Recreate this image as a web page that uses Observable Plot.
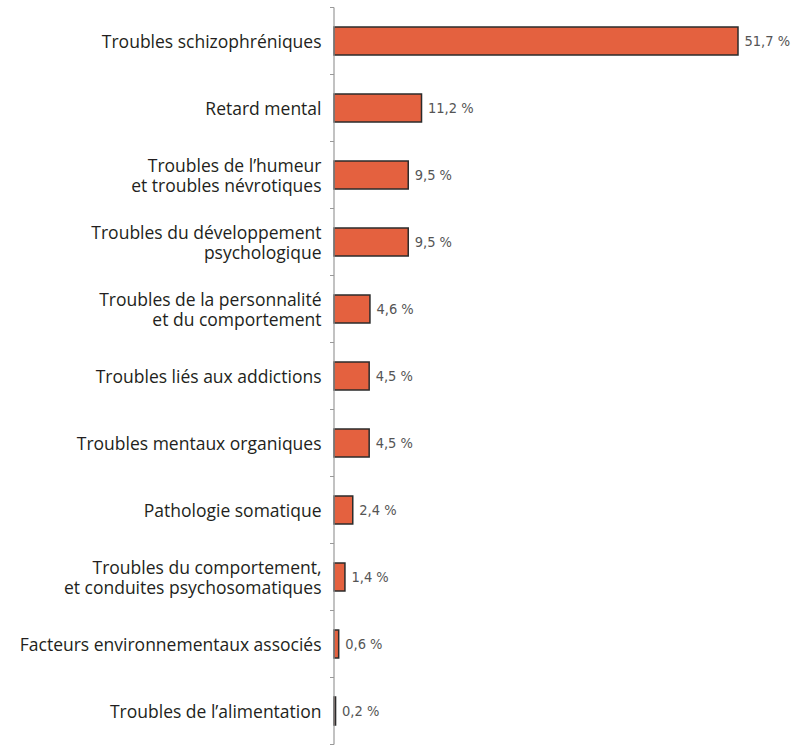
<!DOCTYPE html>
<html><head><meta charset="utf-8">
<script src="https://cdn.jsdelivr.net/npm/d3@7"></script>
<script src="https://cdn.jsdelivr.net/npm/@observablehq/plot@0.6"></script>
<style>body{margin:0;background:#fff;} #chart{width:792px;}</style>
</head><body><div id="chart"></div>
<script>
const categories = [
  "Troubles schizophréniques",
  "Retard mental",
  "Troubles de l’humeur\net troubles névrotiques",
  "Troubles du développement\npsychologique",
  "Troubles de la personnalité\net du comportement",
  "Troubles liés aux addictions",
  "Troubles mentaux organiques",
  "Pathologie somatique",
  "Troubles du comportement,\net conduites psychosomatiques",
  "Facteurs environnementaux associés",
  "Troubles de l’alimentation"
];
const values = [51.7, 11.2, 9.5, 9.5, 4.6, 4.5, 4.5, 2.4, 1.4, 0.6, 0.2];
const valueLabels = ["51,7 %", "11,2 %", "9,5 %", "9,5 %", "4,6 %", "4,5 %", "4,5 %", "2,4 %", "1,4 %", "0,6 %", "0,2 %"];

const data = categories.map((c, i) => ({cat: c, v: values[i], lab: valueLabels[i]}));

const boundaryTicks = (index, scales, values, dims, context) => {
  const g = d3.create("svg:g");
  const y = scales.y, x = scales.x;
  const step = y.step();
  const x0 = x(0);
  const doms = y.domain();
  const pos = doms.map(d => y(d) - (step - y.bandwidth()) / 2);
  pos.push(pos[pos.length - 1] + step);
  g.selectAll("line").data(pos).join("line")
    .attr("x1", x0 - 4).attr("x2", x0)
    .attr("y1", d => d).attr("y2", d => d)
    .attr("stroke", "#999").attr("stroke-width", 1);
  g.append("line").attr("x1", x0).attr("x2", x0)
    .attr("y1", pos[0]).attr("y2", pos[pos.length - 1])
    .attr("stroke", "#999").attr("stroke-width", 1.2);
  return g.node();
};

const chart = Plot.plot({
  width: 792,
  height: 749,
  marginLeft: 334,
  marginRight: 54,
  marginTop: 8,
  marginBottom: 4,
  style: {fontFamily: "'Open Sans', sans-serif", background: "#fff"},
  x: {domain: [0, 51.7], axis: null},
  y: {domain: categories, paddingInner: 0.58, paddingOuter: 0.29, align: 0.5, label: null},
  marks: [
    Plot.barX(data, {x: "v", y: "cat", fill: "#e4613f", stroke: "#2b2b2b", strokeWidth: 1.5}),
    Plot.text(data, {x: "v", y: "cat", text: "lab", dx: 6, textAnchor: "start",
      fontFamily: "'DejaVu Sans Condensed', sans-serif", fontSize: 14.5, fill: "#555"}),
    Plot.axisY({tickSize: 0, tickPadding: 13, fontSize: 17.5, fontWeight: 500, lineHeight: 1.12, fill: "#231f20", label: null}),
    boundaryTicks
  ]
});
document.getElementById("chart").appendChild(chart);
</script></body></html>
